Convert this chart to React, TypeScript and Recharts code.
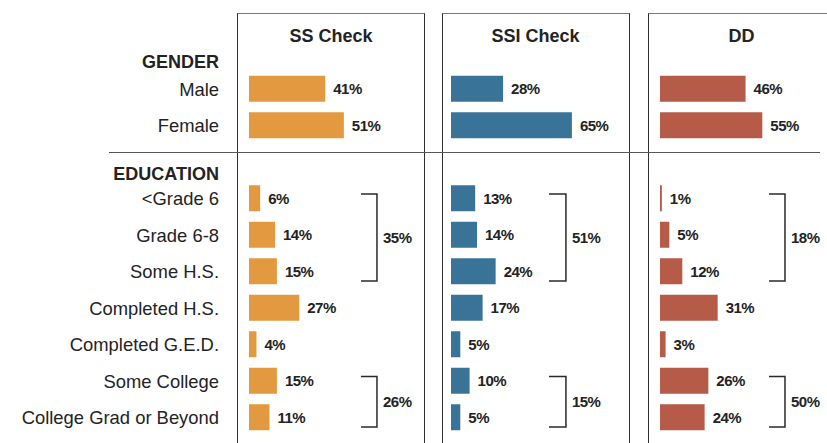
import React from 'react';
import { BarChart, Bar, XAxis, YAxis, LabelList, ReferenceArea } from 'recharts';

const FONT = "'Liberation Sans', Arial, Helvetica, sans-serif";

const categories = [
  'Male',
  'Female',
  ' ',
  '<Grade 6',
  'Grade 6-8',
  'Some H.S.',
  'Completed H.S.',
  'Completed G.E.D.',
  'Some College',
  'College Grad or Beyond',
];

const panelTitles = ['SS Check', 'SSI Check', 'DD'];
const groupHeaders = ['GENDER', 'EDUCATION'];

const ssCheckValues = [41, 51, null, 6, 14, 15, 27, 4, 15, 11];
const ssiCheckValues = [28, 65, null, 13, 14, 24, 17, 5, 10, 5];
const ddValues = [46, 55, null, 1, 5, 12, 31, 3, 26, 24];

const bracketGroups = [
  { from: '<Grade 6', to: 'Some H.S.' },
  { from: 'Some College', to: 'College Grad or Beyond' },
];
const ssCheckTotals = [35, 26];
const ssiCheckTotals = [51, 15];
const ddTotals = [18, 50];

const TEXT = '#232323';

function makeBracketShape(label: string, rows: number) {
  return (props: any) => {
    const { x, y, width, height } = props;
    if ([x, y, width, height].some((v) => typeof v !== 'number' || isNaN(v))) return null;
    const band = height / rows;
    const top = y + 0.38 * band;
    const bot = y + height - 0.24 * band;
    const xr = x + width;
    return (
      <g>
        <path
          d={`M${x},${top}H${xr}V${bot}H${x}`}
          fill="none"
          stroke="#2a2a2a"
          strokeWidth={1.5}
        />
        <text
          x={xr + 6}
          y={(top + bot) / 2}
          dy="0.36em"
          fill={TEXT}
          fontSize={15}
          fontWeight={700}
          fontFamily={FONT}
          letterSpacing={-0.5}
        >
          {label}
        </text>
      </g>
    );
  };
}

type PanelProps = {
  values: (number | null)[];
  totals: number[];
  color: string;
  showAxis: boolean;
  left: number;
  arm: [number, number];
};

function Panel({ values, totals, color, showAxis, left, arm }: PanelProps) {
  const data = categories.map((name, i) => ({ name, value: values[i] }));
  const yW = showAxis ? 249 : 0;
  const plotW = 186;
  return (
    <div style={{ position: 'absolute', left, top: 0 }}>
      <BarChart
        width={yW + plotW}
        height={443}
        data={data}
        layout="vertical"
        margin={{ top: 70.75, right: 0, bottom: 7.25, left: 0 }}
      >
        <XAxis type="number" domain={[0, 100]} hide allowDataOverflow />
        <YAxis
          type="category"
          dataKey="name"
          width={yW}
          hide={!showAxis}
          interval={0}
          tickLine={false}
          axisLine={false}
          tickSize={0}
          tickMargin={30}
          tick={{ fontSize: 18.4, fill: TEXT, fontFamily: FONT }}
        />
        <Bar dataKey="value" fill={color} barSize={26} isAnimationActive={false}>
          <LabelList
            dataKey="value"
            position="right"
            offset={8}
            formatter={(v: any) => (v == null ? '' : `${v}%`)}
            style={{ fontSize: 15, fontWeight: 700, fill: TEXT, fontFamily: FONT, letterSpacing: -0.5 }}
          />
        </Bar>
        {bracketGroups.map((g, k) => {
          const rows = categories.indexOf(g.to) - categories.indexOf(g.from) + 1;
          return (
            <ReferenceArea
              key={k}
              x1={arm[0]}
              x2={arm[1]}
              y1={g.from}
              y2={g.to}
              ifOverflow="visible"
              shape={makeBracketShape(`${totals[k]}%`, rows)}
            />
          );
        })}
      </BarChart>
    </div>
  );
}

const panels = [
  { values: ssCheckValues, totals: ssCheckTotals, color: '#E3993F', left: 0, boxLeft: 237, showAxis: true, arm: [60.2, 68.8] as [number, number] },
  { values: ssiCheckValues, totals: ssiCheckTotals, color: '#3A7398', left: 451, boxLeft: 441.5, showAxis: false, arm: [52.7, 61.8] as [number, number] },
  { values: ddValues, totals: ddTotals, color: '#B55B48', left: 660, boxLeft: 647.5, showAxis: false, arm: [58.6, 67.2] as [number, number] },
];

export default function App() {
  return (
    <div
      style={{
        position: 'absolute',
        left: 0,
        top: 0,
        width: 827,
        height: 443,
        overflow: 'hidden',
        background: '#fff',
        fontFamily: FONT,
        color: TEXT,
      }}
    >
      {panels.map((p, i) => (
        <div
          key={'box' + i}
          style={{
            position: 'absolute',
            left: p.boxLeft,
            top: 13,
            width: 188,
            height: 460,
            boxSizing: 'border-box',
            borderTop: '1.5px solid #7a7a7a',
            borderLeft: '1.5px solid #2e2e2e',
            borderRight: '1.5px solid #2e2e2e',
          }}
        />
      ))}
      <div style={{ position: 'absolute', left: 109, top: 152, width: 711, height: 1, background: '#555' }} />
      {panels.map((p, i) => (
        <div
          key={'t' + i}
          style={{
            position: 'absolute',
            left: p.boxLeft,
            top: 26,
            width: 188,
            textAlign: 'center',
            fontSize: 18,
            fontWeight: 700,
            lineHeight: '20px',
          }}
        >
          {panelTitles[i]}
        </div>
      ))}
      {groupHeaders.map((h, i) => (
        <div
          key={'h' + i}
          style={{
            position: 'absolute',
            left: 0,
            top: i === 0 ? 52 : 164,
            width: 219,
            textAlign: 'right',
            fontSize: 18,
            fontWeight: 700,
            lineHeight: '20px',
          }}
        >
          {h}
        </div>
      ))}
      {panels.map((p, i) => (
        <Panel key={i} values={p.values} totals={p.totals} color={p.color} showAxis={p.showAxis} left={p.left} arm={p.arm} />
      ))}
    </div>
  );
}
